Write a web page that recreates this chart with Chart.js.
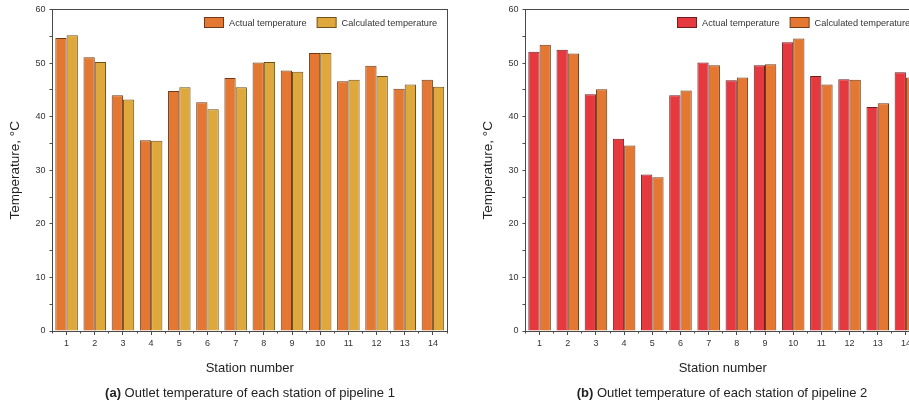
<!DOCTYPE html>
<html>
<head>
<meta charset="utf-8">
<script src="https://cdn.jsdelivr.net/npm/chart.js@4.4.1/dist/chart.umd.min.js"></script>
<style>
  html, body { margin: 0; padding: 0; background: #fff; overflow: hidden; }
  #wrap { position: relative; width: 909px; height: 405px; overflow: hidden; background: #fff; }
  canvas { position: absolute; top: 0; }
  #ca { left: 0; }
  #cb { left: 473px; }
  .cap { position: absolute; top: 385px; width: 500px; text-align: center; white-space: nowrap;
         font: 13px "Liberation Sans", Arial, sans-serif; line-height: 15px; color: #222; }
</style>
</head>
<body>
<div id="wrap">
  <canvas id="ca" width="460" height="405"></canvas>
  <canvas id="cb" width="460" height="405"></canvas>
  <div class="cap" style="left:0px;"><b>(a)</b> Outlet temperature of each station of pipeline 1</div>
  <div class="cap" style="left:472px;"><b>(b)</b> Outlet temperature of each station of pipeline 2</div>
</div>
<script>
// ---- data ----
const stations = ['1','2','3','4','5','6','7','8','9','10','11','12','13','14'];
const seriesNames = ['Actual temperature', 'Calculated temperature'];
const actualP1 = [54.7, 51.1, 44.0, 35.6, 44.8, 42.7, 47.2, 50.1, 48.6, 51.9, 46.6, 49.5, 45.2, 46.9];
const calcP1   = [55.2, 50.2, 43.2, 35.5, 45.5, 41.4, 45.5, 50.2, 48.4, 51.9, 46.9, 47.6, 46.0, 45.6];
const actualP2 = [52.1, 52.5, 44.2, 35.9, 29.2, 44.0, 50.1, 46.8, 49.6, 53.9, 47.6, 47.0, 41.8, 48.3];
const calcP2   = [53.4, 51.8, 45.1, 34.6, 28.7, 44.9, 49.6, 47.3, 49.8, 54.6, 46.0, 46.9, 42.5, 47.3];
const yMin = 0, yMax = 60, yLabelStep = 10, yMinorStep = 5;
const xTitle = 'Station number';
const yTitle = 'Temperature, \u00B0C';

const FONT = '"Liberation Sans", Arial, Helvetica, sans-serif';
const AXIS = '#4a4a4a';

const insideLegend = {
  id: 'insideLegend',
  afterDatasetsDraw(chart) {
    const { ctx, chartArea } = chart;
    const ds = chart.data.datasets;
    ctx.save();
    ctx.font = '9.2px ' + FONT;
    const bw = 19, bh = 10, gap = 6, sep = 10;
    const widths = ds.map(d => ctx.measureText(d.label).width);
    const total = widths.reduce((a, b) => a + b, 0) + ds.length * (bw + gap) + (ds.length - 1) * sep;
    let x = Math.round(chartArea.right - 10 - total);
    const y = Math.round(chartArea.top + 7);
    ds.forEach((d, i) => {
      ctx.fillStyle = d.backgroundColor;
      ctx.fillRect(x + 0.5, y + 0.5, bw, bh);
      ctx.strokeStyle = d.borderColor;
      ctx.lineWidth = 1;
      ctx.strokeRect(x + 0.5, y + 0.5, bw, bh);
      x += bw + gap;
      ctx.fillStyle = '#333';
      ctx.textBaseline = 'middle';
      ctx.textAlign = 'left';
      ctx.fillText(d.label, x, y + bh / 2 + 1);
      x += widths[i] + sep;
    });
    ctx.restore();
  }
};

function makeChart(id, actual, calc, colActual, bordActual, colCalc, bordCalc) {
  return new Chart(document.getElementById(id), {
    type: 'bar',
    data: {
      labels: stations,
      datasets: [
        { label: seriesNames[0], data: actual, backgroundColor: colActual, borderColor: bordActual,
          borderWidth: 1, borderSkipped: 'bottom', categoryPercentage: 0.8, barPercentage: 1.0, xAxisID: 'x', yAxisID: 'y' },
        { label: seriesNames[1], data: calc, backgroundColor: colCalc, borderColor: bordCalc,
          borderWidth: 1, borderSkipped: 'bottom', categoryPercentage: 0.8, barPercentage: 1.0, xAxisID: 'x', yAxisID: 'y' }
      ]
    },
    options: {
      responsive: false,
      animation: false,
      events: [],
      layout: { padding: { top: 9.5, left: 0, right: 13, bottom: 25 } },
      plugins: { legend: { display: false }, tooltip: { enabled: false }, title: { display: false } },
      scales: {
        x: {
          type: 'category',
          position: 'bottom',
          weight: 0,
          offset: true,
          grid: { display: true, drawOnChartArea: false, drawTicks: true, tickLength: 4, offset: false, color: AXIS },
          border: { display: true, color: AXIS, width: 1 },
          ticks: { color: '#333', font: { family: FONT, size: 9 }, padding: 3, maxRotation: 0, autoSkip: false },
          title: { display: true, text: xTitle, color: '#222', font: { family: FONT, size: 13 }, padding: { top: 0, bottom: 4 } },
          afterFit: (s) => { s.height = 49; }
        },
        xMinor: {
          type: 'category',
          position: 'bottom',
          weight: -1,
          offset: true,
          grid: { display: true, drawOnChartArea: false, drawTicks: true, tickLength: 2.5, offset: true, color: AXIS },
          border: { display: false },
          ticks: { display: false },
          afterFit: (s) => { s.height = 0; }
        },
        xTop: {
          type: 'linear', position: 'top', min: 0, max: 1,
          grid: { display: false, drawTicks: false },
          border: { display: true, color: AXIS, width: 1 },
          ticks: { display: false },
          afterFit: (s) => { s.height = 0; }
        },
        y: {
          type: 'linear',
          position: 'left',
          min: yMin, max: yMax,
          grid: { display: true, drawOnChartArea: false, drawTicks: true, tickLength: 3, color: AXIS },
          border: { display: true, color: AXIS, width: 1 },
          ticks: {
            stepSize: yMinorStep,
            color: '#333',
            font: { family: FONT, size: 9 },
            padding: 4,
            callback: (v) => (v % yLabelStep === 0 ? String(v) : '')
          },
          title: { display: true, text: yTitle, color: '#222', font: { family: FONT, size: 13.5 }, padding: { top: 7, bottom: 0 } },
          afterFit: (s) => { s.width = 52.5; }
        },
        yRight: {
          type: 'linear', position: 'right', min: 0, max: 1,
          grid: { display: false, drawTicks: false },
          border: { display: true, color: AXIS, width: 1 },
          ticks: { display: false },
          afterFit: (s) => { s.width = 0; }
        }
      }
    },
    plugins: [insideLegend]
  });
}

makeChart('ca', actualP1, calcP1, '#E47832', '#6e3a18', '#DEA83C', '#6e5018');
makeChart('cb', actualP2, calcP2, '#E5393F', '#6e1e20', '#E47832', '#6e3a18');
</script>
</body>
</html>
